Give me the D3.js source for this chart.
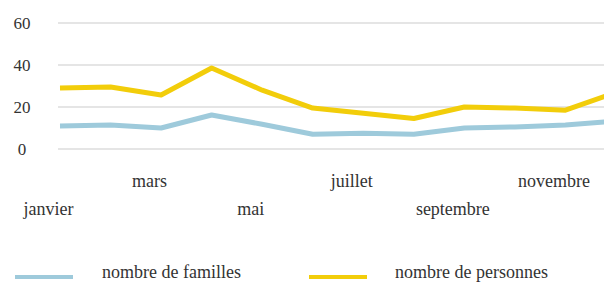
<!DOCTYPE html>
<html>
<head>
<meta charset="utf-8">
<script src="https://cdn.jsdelivr.net/npm/d3@7"></script>
<style>
  body { margin: 0; background: #fff; }
  svg { display: block; overflow: hidden; }
  text { font-family: "Liberation Serif", serif; fill: #333; }
</style>
</head>
<body>
<div class="chart"></div>
<script>
const months = ['janvier', 'février', 'mars', 'avril', 'mai', 'juin', 'juillet', 'août', 'septembre', 'octobre', 'novembre', 'décembre'];
const familles = [11, 11.4, 10, 16.2, 11.8, 7, 7.5, 7, 10, 10.5, 11.4, 13.3];
const personnes = [29, 29.5, 25.7, 38.6, 28, 19.5, 17, 14.5, 20, 19.5, 18.5, 27];
const yTicks = [0, 20, 40, 60];
const seriesNames = ['nombre de familles', 'nombre de personnes'];
const colors = ['#9ecadb', '#f2cd0a'];

const width = 604;
const height = 282;

const svg = d3.select('.chart')
  .append('svg')
  .attr('width', width)
  .attr('height', height);

const xScale = d3.scalePoint()
  .domain(months)
  .range([60, 616]);

const yScale = d3.scaleLinear()
  .domain([0, 60])
  .range([149, 23]);

// grid
svg.append('g')
  .selectAll('line')
  .data(yTicks)
  .enter()
  .append('line')
  .attr('x1', 58)
  .attr('x2', width)
  .attr('y1', d => yScale(d))
  .attr('y2', d => yScale(d))
  .attr('stroke', '#dcdcdc')
  .attr('stroke-width', 1.5);

// y labels
svg.append('g')
  .selectAll('text')
  .data(yTicks)
  .enter()
  .append('text')
  .attr('x', 22)
  .attr('y', d => yScale(d) + 6)
  .attr('text-anchor', 'middle')
  .style('font-size', '17px')
  .text(d => d);

// x labels, every other month on two rows
const xAxis = d3.axisBottom(xScale)
  .tickSize(0)
  .tickFormat((d, i) => i % 2 === 0 ? d : '');

const xg = svg.append('g')
  .attr('transform', 'translate(0, 175)')
  .call(xAxis);
xg.select('.domain').remove();
xg.selectAll('text')
  .attr('dx', -12)
  .attr('y', (d, i) => i % 4 === 0 ? 40 : 12)
  .attr('dy', 0)
  .style('font-size', '18px')
  .style('font-family', '"Liberation Serif", serif')
  .attr('fill', '#333');

// lines
const line = d3.line()
  .x((d, i) => xScale(months[i]))
  .y(d => yScale(d));

[familles, personnes].forEach((s, k) => {
  svg.append('path')
    .datum(s)
    .attr('d', line)
    .attr('fill', 'none')
    .attr('stroke', colors[k])
    .attr('stroke-width', 5)
    .attr('stroke-linejoin', 'round');
});

// legend
const legendX = [15, 309];
const legend = svg.append('g')
  .selectAll('g')
  .data(seriesNames)
  .enter()
  .append('g')
  .attr('transform', (d, i) => 'translate(' + legendX[i] + ', 277)');

legend.append('line')
  .attr('x1', 0)
  .attr('x2', 58)
  .attr('stroke', (d, i) => colors[i])
  .attr('stroke-width', 4);

legend.append('text')
  .attr('x', (d, i) => i === 0 ? 87 : 86)
  .attr('y', 1)
  .style('font-size', '18px')
  .text(d => d);
</script>
</body>
</html>
